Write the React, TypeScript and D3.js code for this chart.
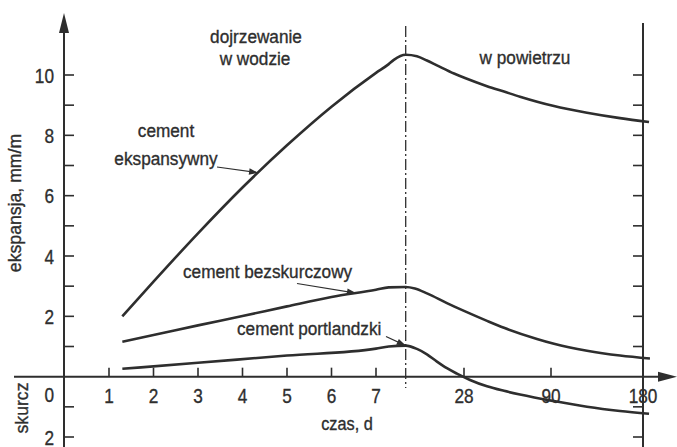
import React from "react";
import * as d3 from "d3";

const W = 677;
const H = 447;

// x axis: days (broken scale: linear 0-7, then compressed 14/28/90/180)
const xBreakDays = [0, 7, 14, 28, 90, 180];
const xTickDays = [1, 2, 3, 4, 5, 6, 7, 28, 90, 180];
const xTickLabels = ["1", "2", "3", "4", "5", "6", "7", "28", "90", "180"];
const transitionDay = 14;

// y axis: expansion (+) / shrinkage (-) mm/m
const yTickValues = [-2, -1, 1, 2, 3, 4, 5, 6, 7, 8, 9, 10];
const yLabelValues = [10, 8, 6, 4, 2, -2];
const yLabelTexts = ["10", "8", "6", "4", "2", "2"];

// series: cement ekspansywny
const ekspDays = [1.3, 2, 3, 4, 5, 6, 7, 10, 11.2, 14, 16.7, 19.1, 21.5, 25.6, 28.7, 44.4, 56.5, 67.9, 92.9, 125.2, 157.5, 185.9];
const ekspValues = [2.0, 3.15, 4.75, 6.27, 7.67, 8.95, 10.07, 10.36, 10.5, 10.67, 10.62, 10.48, 10.32, 10.05, 9.9, 9.63, 9.45, 9.28, 8.97, 8.75, 8.57, 8.44];

// cement bezskurczowy
const bezDays = [1.3, 2, 3, 4, 5, 6, 7, 10, 14, 16.2, 19.1, 23.9, 28, 44.4, 56.5, 80, 92.9, 125.2, 157.5, 186.8];
const bezValues = [1.16, 1.38, 1.7, 2.01, 2.33, 2.64, 2.88, 2.96, 2.97, 2.92, 2.76, 2.44, 2.18, 1.85, 1.62, 1.25, 1.09, 0.86, 0.7, 0.6];

// cement portlandzki
const portDays = [1.3, 3, 5, 7, 10, 14, 16.7, 19.1, 21.5, 23.9, 26.3, 32.3, 44.4, 56.5, 67.9, 92.9, 125.2, 157.5, 185.9];
const portValues = [0.26, 0.46, 0.7, 0.93, 1.0, 1.03, 0.92, 0.74, 0.5, 0.28, 0.1, -0.11, -0.32, -0.47, -0.59, -0.81, -1.0, -1.14, -1.23];

const INK = "#2e2e2e";
const FONT = "'Liberation Sans', Arial, sans-serif";

type TProps = {
  x: number;
  y: number;
  size: number;
  sx: number;
  anchor?: "start" | "middle" | "end";
  rotate?: number;
  children: React.ReactNode;
};
function T({ x, y, size, sx, anchor = "start", rotate = 0, children }: TProps) {
  return (
    <text
      transform={`translate(${x},${y}) rotate(${rotate}) scale(${sx},1)`}
      textAnchor={anchor}
      fontSize={size}
      fill={INK}
      stroke={INK}
      strokeWidth={0.35}
    >
      {children}
    </text>
  );
}

export default function App() {
  const x = d3.scaleLinear().domain(xBreakDays).range([64.5, 376, 405.7, 464, 551, 643]);
  const xx = (d: number) => (d > 180 ? x(180) + ((d - 180) / 90) * 92 : x(d));
  const y = d3.scaleLinear().domain([-2, 10]).range([437, 75]);

  const axisX = 64;
  const axisRight = 643;
  const y0 = y(0);

  const line = d3
    .line<[number, number]>()
    .x((p) => xx(p[0]))
    .y((p) => y(p[1]))
    .curve(d3.curveMonotoneX);

  const series = [
    { days: ekspDays, values: ekspValues },
    { days: bezDays, values: bezValues },
    { days: portDays, values: portValues },
  ];

  const arrowHead = (x1: number, y1: number, x2: number, y2: number) => {
    const a = Math.atan2(y2 - y1, x2 - x1);
    const L = 9;
    const w = 3.2;
    const bx = x2 - L * Math.cos(a);
    const by = y2 - L * Math.sin(a);
    const px = -Math.sin(a) * w;
    const py = Math.cos(a) * w;
    return `M${x2},${y2}L${bx + px},${by + py}L${bx - px},${by - py}Z`;
  };

  const interp = (days: number[], vals: number[], d: number) => {
    for (let i = 1; i < days.length; i++) {
      if (d <= days[i]) {
        const t = (d - days[i - 1]) / (days[i] - days[i - 1]);
        return vals[i - 1] + t * (vals[i] - vals[i - 1]);
      }
    }
    return vals[vals.length - 1];
  };
  const pointerDefs = [
    { x1: 217, y1: 167, d: 4.35, days: ekspDays, vals: ekspValues },
    { x1: 297, y1: 283.5, d: 6.55, days: bezDays, vals: bezValues },
    { x1: 386, y1: 336.5, d: transitionDay, days: portDays, vals: portValues },
  ];

  const NUM = 21;
  const NSX = 0.82;
  const LAB = 18.5;
  const LSX = 0.93;

  return (
    <svg
      width={W}
      height={H}
      style={{ position: "absolute", left: 0, top: 0, background: "#fff" }}
      fontFamily={FONT}
    >
      <rect width={W} height={H} fill="#fff" />
      {/* left axis */}
      <line x1={axisX} x2={axisX} y1={30} y2={H} stroke={INK} strokeWidth={2} />
      <path d={`M${axisX},13L${axisX - 5},33L${axisX + 5},33Z`} fill={INK} />
      {/* right axis */}
      <line x1={axisRight} x2={axisRight} y1={23} y2={H} stroke={INK} strokeWidth={2} />
      {/* x axis */}
      <line x1={14} x2={662} y1={y0} y2={y0} stroke={INK} strokeWidth={2} />
      <path d={`M677,${y0}L658,${y0 - 5}L658,${y0 + 5}Z`} fill={INK} />

      {yTickValues.map((v) => (
        <g key={"yt" + v}>
          <line x1={axisX} x2={axisX + 10} y1={y(v)} y2={y(v)} stroke={INK} strokeWidth={1.6} />
          <line x1={axisRight - 10} x2={axisRight} y1={y(v)} y2={y(v)} stroke={INK} strokeWidth={1.6} />
        </g>
      ))}
      {yLabelValues.map((v, i) => (
        <T key={"yl" + i} x={54} y={y(v) + 7.5} size={NUM} sx={NSX} anchor="end">
          {yLabelTexts[i]}
        </T>
      ))}
      <T x={54} y={y0 + 25} size={NUM} sx={NSX} anchor="end">
        0
      </T>

      {xTickDays.map((d, i) => (
        <g key={"xt" + d}>
          {d !== 180 && (
            <line x1={x(d)} x2={x(d)} y1={y0} y2={y0 - 9} stroke={INK} strokeWidth={1.6} />
          )}
          <T x={x(d)} y={y0 + 26} size={NUM} sx={NSX} anchor="middle">
            {xTickLabels[i]}
          </T>
        </g>
      ))}

      {/* axis titles */}
      <T x={21} y={203} size={19} sx={LSX} anchor="middle" rotate={-90}>
        ekspansja, mm/m
      </T>
      <T x={28} y={408} size={19} sx={LSX} anchor="middle" rotate={-90}>
        skurcz
      </T>
      <T x={347} y={430} size={LAB} sx={0.88} anchor="middle">
        czas, d
      </T>

      {/* transition line */}
      <line
        x1={x(transitionDay)}
        x2={x(transitionDay)}
        y1={26}
        y2={388}
        stroke={INK}
        strokeWidth={1.3}
        strokeDasharray="11,3,2,3"
      />

      {/* curves */}
      {series.map((s, i) => (
        <path
          key={"s" + i}
          d={line(s.days.map((d, j) => [d, s.values[j]] as [number, number])) || ""}
          fill="none"
          stroke={INK}
          strokeWidth={2.6}
        />
      ))}

      {/* region labels */}
      <T x={256} y={43} size={LAB} sx={LSX} anchor="middle">
        dojrzewanie
      </T>
      <T x={255} y={65} size={LAB} sx={LSX} anchor="middle">
        w wodzie
      </T>
      <T x={525} y={64} size={LAB} sx={LSX} anchor="middle">
        w powietrzu
      </T>

      {/* series labels */}
      <T x={166} y={137} size={LAB} sx={LSX} anchor="middle">
        cement
      </T>
      <T x={166} y={165} size={LAB} sx={LSX} anchor="middle">
        ekspansywny
      </T>
      <T x={183} y={278} size={LAB} sx={LSX}>
        cement bezskurczowy
      </T>
      <T x={237} y={335} size={LAB} sx={LSX}>
        cement portlandzki
      </T>

      {pointerDefs.map((p, i) => {
        const x2 = xx(p.d);
        const y2 = y(interp(p.days, p.vals, p.d));
        return (
          <g key={"p" + i}>
            <line x1={p.x1} y1={p.y1} x2={x2} y2={y2} stroke={INK} strokeWidth={1.2} />
            <path d={arrowHead(p.x1, p.y1, x2, y2)} fill={INK} />
          </g>
        );
      })}
    </svg>
  );
}
